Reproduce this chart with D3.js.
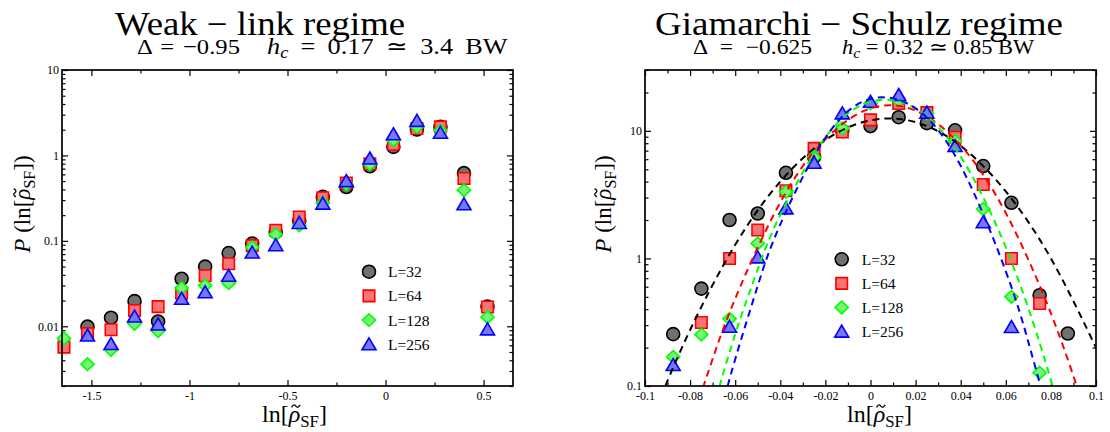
<!DOCTYPE html>
<html>
<head>
<meta charset="utf-8">
<script src="https://cdn.jsdelivr.net/npm/d3@7"></script>
<style>
  body { margin: 0; background: #fff; }
  text { font-family: "Liberation Serif", "Times New Roman", serif; }
</style>
</head>
<body>
<svg id="chart" width="1110" height="432"></svg>
<script>
// ---- data ----
const seriesNames = ['L=32', 'L=64', 'L=128', 'L=256'];

// weak-link panel
const weakX = [-1.64, -1.52, -1.40, -1.28, -1.16, -1.04, -0.92, -0.80, -0.68, -0.56,
               -0.44, -0.32, -0.20, -0.08, 0.04, 0.16, 0.28, 0.40, 0.52];
const weakL32 = [null, 0.0099, 0.0126, 0.0197, 0.0114, 0.036, 0.050, 0.072, 0.093, 0.127,
                 0.171, 0.327, 0.427, 0.747, 1.26, 2.01, 2.16, 0.62, 0.0170];
const weakL64 = [0.0057, 0.0082, 0.0091, 0.0153, 0.017, 0.0244, 0.039, 0.054, 0.088, 0.133,
                 0.19, 0.32, 0.476, 0.80, 1.35, 2.07, 2.16, 0.536, 0.0168];
const weakL128 = [0.0072, 0.0036, 0.0053, 0.0107, 0.0088, 0.028, 0.030, 0.032, 0.084, 0.119,
                  0.152, 0.277, 0.46, 0.79, 1.51, 2.16, 1.94, 0.391, 0.0128];
const weakL256 = [null, 0.0078, 0.0062, 0.013, 0.0105, 0.021, 0.025, 0.039, 0.073, 0.089,
                  0.162, 0.273, 0.50, 0.92, 1.77, 2.54, 1.84, 0.268, 0.0092];

// Giamarchi-Schulz panel
const gsX = [-0.0875, -0.075, -0.0625, -0.05, -0.0375, -0.025, -0.0125, 0, 0.0125, 0.025,
             0.0375, 0.05, 0.0625, 0.075, 0.0875];
const gsL32 = [0.255, 0.58, 2.0, 2.25, 4.69, 6.26, 10.0, 10.9, 12.8, 11.5, 10.1, 5.3, 2.73, 0.515, 0.258];
const gsL64 = [null, 0.315, 1.0, 1.67, 3.39, 7.29, 9.8, 12.2, 16.4, 13.9, 8.9, 3.8, 1.0, 0.443, null];
const gsL128 = [0.169, 0.253, 0.336, 1.31, 3.33, 6.2, 10.5, 16.4, 17.2, 13.7, 8.36, 2.44, 0.50, 0.127, null];
const gsL256 = [0.146, null, 0.291, 1.02, 2.47, 5.62, 13.7, 16.9, 19.1, 13.9, 7.6, 1.92, 0.29, null, null];

// dashed fit curves
const fitX32 = [-0.095, -0.08, -0.06, -0.04, -0.02, 0, 0.02, 0.04, 0.06, 0.08, 0.1];
const fitP32 = [0.0675, 0.275, 1.28, 4.0, 8.47, 12.1, 11.7, 7.62, 3.35, 1.0, 0.20];
const fitX64 = [-0.076, -0.07, -0.06, -0.04, -0.02, 0, 0.02, 0.04, 0.06, 0.08, 0.094];
const fitP64 = [0.079, 0.163, 0.484, 2.75, 8.6, 15.0, 14.4, 7.69, 2.27, 0.371, 0.073];
const fitX128 = [-0.07, -0.06, -0.05, -0.04, -0.02, 0, 0.02, 0.04, 0.06, 0.075, 0.084];
const fitP128 = [0.065, 0.255, 0.822, 2.2, 8.9, 16.9, 15.0, 6.27, 1.22, 0.218, 0.063];
const fitX256 = [-0.066, -0.06, -0.05, -0.04, -0.02, 0, 0.02, 0.04, 0.06, 0.07, 0.078];
const fitP256 = [0.066, 0.162, 0.611, 1.85, 8.83, 17.8, 15.0, 5.32, 0.793, 0.221, 0.068];

// tick values
const weakXMajor = [-1.5, -1, -0.5, 0, 0.5];
const weakXMinor = [-1.25, -0.75, -0.25, 0.25];
const weakYMajor = [0.01, 0.1, 1, 10];
const gsXMajor = [-0.1, -0.08, -0.06, -0.04, -0.02, 0, 0.02, 0.04, 0.06, 0.08, 0.1];
const gsXMinor = [-0.09, -0.07, -0.05, -0.03, -0.01, 0.01, 0.03, 0.05, 0.07, 0.09];
const gsYMajor = [0.1, 1, 10];

// ---- styles ----
const strokes = ['#000000', '#ff0000', '#00ff00', '#0000ff'];
const fills = ['#707070', '#f77575', '#77f577', '#7777f5'];
const shapes = ['circle', 'square', 'diamond', 'triangle'];
const serif = '"Liberation Serif", "Times New Roman", serif';

const svg = d3.select('#chart');

function markerPath(shape) {
    if (shape === 'circle') return d3.symbol(d3.symbolCircle, Math.PI * 6.5 * 6.5)();
    if (shape === 'square') return d3.symbol(d3.symbolSquare, 11.5 * 11.5)();
    if (shape === 'diamond') return 'M0,-6.3L6.6,0L0,6.3L-6.6,0Z';
    return 'M0,-6.5L7,5.5L-7,5.5Z';
}

function isDecade(v) {
    const l = Math.log10(v);
    return Math.abs(l - Math.round(l)) < 1e-6;
}

// writes "prefix ρ_SF suffix" and draws a small tilde over the rho
function rhoLabel(parent, x, y, anchor, size, prefix, suffix) {
    const t = parent.append('text')
        .attr('x', x).attr('y', y)
        .attr('text-anchor', anchor)
        .attr('font-size', size);
    prefix.forEach(s => {
        const ts = t.append('tspan').text(s.text);
        if (s.italic) ts.attr('font-style', 'italic');
    });
    t.append('tspan').attr('font-style', 'italic').text('ρ');
    t.append('tspan').attr('font-size', size * 0.7).attr('dy', size * 0.22).text('SF');
    t.append('tspan').attr('dy', -size * 0.22).text(suffix);

    const idx = prefix.map(s => s.text).join('').length;
    const node = t.node();
    const start = node.getStartPositionOfChar(idx);
    const ext = node.getExtentOfChar(idx);
    const cx = start.x + ext.width * 0.62, cy = start.y - size * 0.66;
    const w = size * 0.36, a = size * 0.05;
    const pth = d3.path();
    pth.moveTo(cx - w / 2, cy + a);
    pth.bezierCurveTo(cx - w / 4, cy - 2 * a, cx - w / 8, cy - a, cx, cy);
    pth.bezierCurveTo(cx + w / 8, cy + a, cx + w / 4, cy + 2 * a, cx + w / 2, cy - a);
    parent.append('path').attr('d', pth.toString())
        .attr('fill', 'none').attr('stroke', '#000').attr('stroke-width', size * 0.055);
    return t;
}

// text brought to a given width: glyphs widened a little (Computer Modern is wider
// than Times), the rest goes into the word gaps
function spreadText(parent, x, y, size, parts, width) {
    const t = parent.append('text').attr('x', 0).attr('y', 0)
        .attr('font-family', serif).attr('font-size', size);
    parts.forEach(s => {
        const ts = t.append('tspan').text(s.text);
        if (s.italic) ts.attr('font-style', 'italic');
        if (s.sub) ts.attr('font-size', size * 0.7).attr('dy', 4);
        if (s.up) ts.attr('dy', -4);
    });
    const natural = t.node().getComputedTextLength();
    const sx = Math.min(width / natural, 1.12);
    const gaps = parts.map(s => s.text).join('').split(' ').length - 1;
    if (gaps > 0) t.attr('word-spacing', Math.max(0, (width / sx - natural) / gaps));
    t.attr('transform', `translate(${x},${y}) scale(${sx},1)`);
    return t;
}

function drawPanel(p) {
    const g = svg.append('g');
    const x = d3.scaleLinear().domain(p.xDomain).range([p.left, p.right]);
    const y = d3.scaleLog().domain(p.yDomain).range([p.bottom, p.top]);
    const yMinor = y.ticks().filter(v => !isDecade(v));

    const axis = (gen, values, size, transform, labels, pad) => {
        const a = g.append('g').attr('transform', transform)
            .call(gen.tickValues(values).tickSizeInner(-size).tickSizeOuter(0)
                .tickPadding(pad || 0).tickFormat(labels ? d => String(d) : ''));
        a.select('.domain').remove();
        a.attr('font-family', serif).attr('font-size', 12);
        a.selectAll('line').attr('stroke', '#000').attr('stroke-width', 1.2);
        a.selectAll('text').attr('fill', '#000');
        return a;
    };

    // bottom / top
    axis(d3.axisBottom(x), p.xMajor, 6, `translate(0,${p.bottom})`, true, 5.5);
    axis(d3.axisBottom(x), p.xMinor, 3.5, `translate(0,${p.bottom})`, false);
    axis(d3.axisTop(x), p.xMajor, 6, `translate(0,${p.top})`, false);
    axis(d3.axisTop(x), p.xMinor, 3.5, `translate(0,${p.top})`, false);
    // left / right
    axis(d3.axisLeft(y), p.yMajor, 6, `translate(${p.left},0)`, true, 3);
    axis(d3.axisLeft(y), yMinor, 3.5, `translate(${p.left},0)`, false);
    axis(d3.axisRight(y), p.yMajor, 6, `translate(${p.right},0)`, false);
    axis(d3.axisRight(y), yMinor, 3.5, `translate(${p.right},0)`, false);

    const clipId = 'clip' + p.id;
    svg.append('clipPath').attr('id', clipId).append('rect')
        .attr('x', p.left).attr('y', p.top)
        .attr('width', p.right - p.left).attr('height', p.bottom - p.top);

    // markers
    p.series.forEach((vals, i) => {
        const pts = p.xs.map((xv, j) => ({ x: xv, v: vals[j] })).filter(d => d.v != null);
        g.append('g').selectAll('path').data(pts).enter().append('path')
            .attr('d', markerPath(shapes[i]))
            .attr('transform', d => `translate(${x(d.x)},${y(d.v)})`)
            .attr('fill', fills[i])
            .attr('stroke', strokes[i])
            .attr('stroke-width', 1.6);
    });

    // fit curves
    if (p.fits) {
        const line = d3.line().x(d => x(d[0])).y(d => y(d[1])).curve(d3.curveNatural);
        p.fits.forEach((f, i) => {
            g.append('path')
                .attr('clip-path', `url(#${clipId})`)
                .attr('d', line(d3.zip(f[0], f[1])))
                .attr('fill', 'none')
                .attr('stroke', strokes[i])
                .attr('stroke-width', 2)
                .attr('stroke-dasharray', '7,5');
        });
    }

    // frame
    g.append('rect')
        .attr('x', p.left).attr('y', p.top)
        .attr('width', p.right - p.left).attr('height', p.bottom - p.top)
        .attr('fill', 'none').attr('stroke', '#000').attr('stroke-width', 1.7);

    // legend
    seriesNames.forEach((name, i) => {
        const ly = p.legend.y + i * p.legend.dy;
        g.append('path')
            .attr('d', markerPath(shapes[i]))
            .attr('transform', `translate(${p.legend.x},${ly})`)
            .attr('fill', fills[i]).attr('stroke', strokes[i]).attr('stroke-width', 1.6);
        g.append('text')
            .attr('x', p.legend.textX).attr('y', ly + 5.5)
            .attr('font-size', 15.5)
            .text(name);
    });

    // y label (rotated)
    const yg = g.append('g').attr('transform', `translate(${p.yLabelX},204) rotate(-90)`);
    rhoLabel(yg, 0, 0, 'middle', 23,
        [{ text: 'P', italic: true }, { text: ' (ln[' }], '])');

    // x label
    rhoLabel(g, p.xLabelX, 422, 'start', 24, [{ text: 'ln[' }], ']');

    // titles
    g.append('text')
        .attr('x', p.title.x).attr('y', 34.5)
        .attr('font-size', 33)
        .attr('textLength', p.title.w).attr('lengthAdjust', 'spacingAndGlyphs')
        .text(p.title.text);
    spreadText(g, p.sub.x1, 54, p.sub.size, [{ text: p.sub.delta }], p.sub.w1);
    spreadText(g, p.sub.x2, 54, p.sub.size2,
        [{ text: 'h', italic: true }, { text: 'c', italic: true, sub: true }, { text: p.sub.rest, up: true }],
        p.sub.w2);
}

drawPanel({
    id: 'weak',
    left: 62, right: 513, top: 70, bottom: 386,
    xDomain: [-1.65, 0.65], yDomain: [0.002, 10],
    xMajor: weakXMajor, xMinor: weakXMinor, yMajor: weakYMajor,
    xs: weakX, series: [weakL32, weakL64, weakL128, weakL256],
    legend: { x: 369, y: 271.7, dy: 24.2, textX: 388 },
    yLabelX: 30, xLabelX: 262,
    title: { text: 'Weak \u2212 link regime', x: 115, w: 290 },
    sub: { delta: '\u0394 = \u22120.95', rest: ' = 0.17 \u2243 3.4 BW',
           x1: 137, w1: 103, x2: 267, w2: 241, size: 22, size2: 23.5 }
});

drawPanel({
    id: 'gs',
    left: 645, right: 1096, top: 70, bottom: 386,
    xDomain: [-0.1, 0.1], yDomain: [0.1, 30],
    xMajor: gsXMajor, xMinor: gsXMinor, yMajor: gsYMajor,
    xs: gsX, series: [gsL32, gsL64, gsL128, gsL256],
    fits: [[fitX32, fitP32], [fitX64, fitP64], [fitX128, fitP128], [fitX256, fitP256]],
    legend: { x: 841.7, y: 259.3, dy: 24.1, textX: 861.7 },
    yLabelX: 611, xLabelX: 847,
    title: { text: 'Giamarchi \u2212 Schulz regime', x: 655, w: 408 },
    sub: { delta: '\u0394 = \u22120.625', rest: ' = 0.32 \u2243 0.85 BW',
           x1: 693, w1: 119, x2: 842, w2: 193, size: 21, size2: 21 }
});
</script>
</body>
</html>
